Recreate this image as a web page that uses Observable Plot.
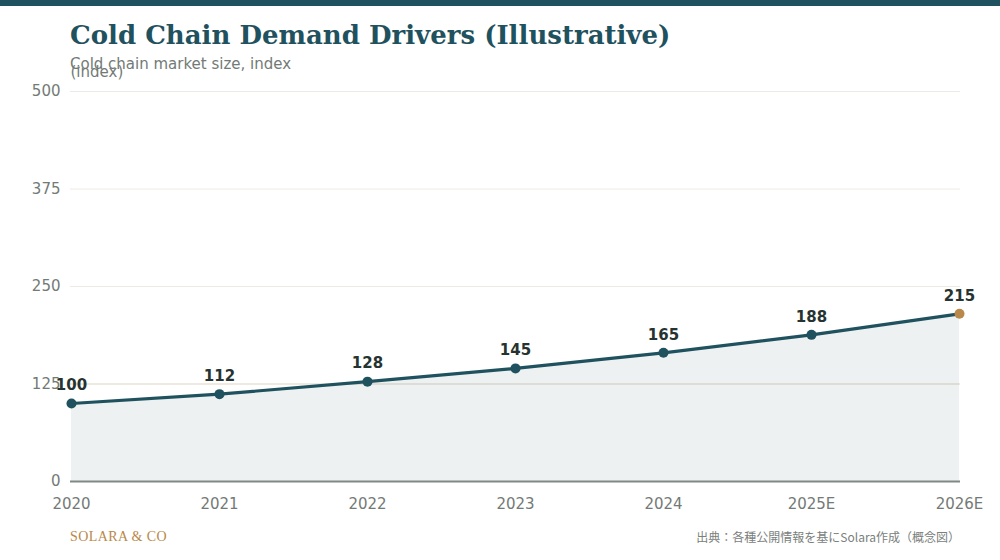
<!DOCTYPE html>
<html>
<head>
<meta charset="utf-8">
<script src="https://cdn.jsdelivr.net/npm/d3@7"></script>
<script src="https://cdn.jsdelivr.net/npm/@observablehq/plot@0.6"></script>
<style>
  html, body { margin: 0; padding: 0; background: #ffffff; }
  body { width: 1000px; height: 560px; position: relative; overflow: hidden; font-family: "DejaVu Sans", sans-serif; }
  #bar { position: absolute; left: 0; top: 0; width: 1000px; height: 6px; background: #1f525e; }
  #title { position: absolute; left: 70px; top: 18px; margin: 0; font-family: "DejaVu Serif", serif; font-weight: bold; font-size: 26px; line-height: 34px; color: #1f525e; white-space: nowrap; }
  #subtitle { position: absolute; left: 70px; top: 55px; font-size: 15px; line-height: 18px; color: #737a76; white-space: nowrap; }
  #chart { position: absolute; left: 0; top: 56px; }
  #brand { position: absolute; left: 70px; top: 529px; font-family: "Liberation Serif", serif; font-size: 14px; line-height: 16px; color: #b8894a; letter-spacing: 0.4px; }
  #source { position: absolute; right: 40px; top: 529px; font-family: "Noto Sans CJK JP", sans-serif; font-size: 12px; line-height: 16px; color: #7a807c; white-space: nowrap; }
</style>
</head>
<body>
<div id="bar"></div>
<h1 id="title">Cold Chain Demand Drivers (Illustrative)</h1>
<div id="subtitle">Cold chain market size, index</div>
<div id="chart"></div>
<div id="brand">SOLARA &amp; CO</div>
<div id="source">出典：各種公開情報を基にSolara作成（概念図）</div>
<script>
const years = ["2020", "2021", "2022", "2023", "2024", "2025E", "2026E"];
const values = [100, 112, 128, 145, 165, 188, 215];
const yTicks = [0, 125, 250, 375, 500];
const gridLight = [250, 375, 500];
const gridAccent = [125];
const yLabel = "(index)";

const data = years.map((year, i) => ({year, value: values[i], last: i === years.length - 1}));

const teal = "#1f525e";
const gold = "#b8894a";
const axisGrey = "#737a76";

const chart = Plot.plot({
  width: 1000,
  height: 470,
  marginTop: 35,
  marginBottom: 45,
  marginLeft: 70,
  marginRight: 40,
  style: {fontFamily: "DejaVu Sans, sans-serif", fontSize: "15px", color: axisGrey, background: "transparent"},
  x: {type: "point", domain: years, padding: 0, label: null},
  y: {domain: [0, 500], label: null},
  marks: [
    Plot.ruleY(gridLight, {stroke: "#eee9e4", strokeWidth: 1}),
    Plot.ruleY(gridAccent, {stroke: "#ddd4c3", strokeWidth: 1}),
    Plot.areaY(data, {x: "year", y: "value", fill: teal, fillOpacity: 0.08}),
    Plot.ruleY([0], {stroke: "#7f8a85", strokeWidth: 2}),
    Plot.axisX({tickSize: 0, tickPadding: 17, fontSize: 15, fill: axisGrey, label: null}),
    Plot.axisY({ticks: yTicks, tickSize: 0, tickPadding: 10, fontSize: 15, fill: axisGrey, label: null}),
    Plot.text([yLabel], {frameAnchor: "top-left", dy: -25, textAnchor: "start", fill: axisGrey, fontSize: 15}),
    Plot.line(data, {x: "year", y: "value", stroke: teal, strokeWidth: 3.2}),
    Plot.dot(data, {x: "year", y: "value", r: 5, fill: d => d.last ? gold : teal, stroke: "none"}),
    Plot.text(data, {x: "year", y: "value", text: d => String(d.value), dy: -18, fill: "#263330", fontWeight: "bold", fontSize: 15})
  ]
});
document.getElementById("chart").appendChild(chart);
</script>
</body>
</html>
